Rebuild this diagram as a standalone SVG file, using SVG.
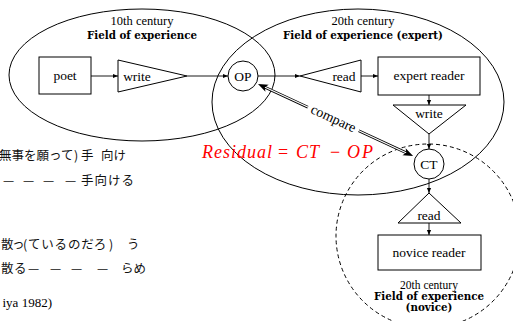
<svg xmlns="http://www.w3.org/2000/svg" width="513" height="321" viewBox="0 0 513 321" font-family="'Liberation Serif', 'Times New Roman', serif">
<style>
.t{font-family:'Liberation Serif','Times New Roman',serif;fill:#000}
.n{font-size:13.5px;text-anchor:middle}
.s{font-size:12.5px;text-anchor:middle}
.s2{font-size:11.5px;text-anchor:middle}
.b{font-family:'DejaVu Serif','Liberation Serif',serif;font-size:10.3px;font-weight:bold;text-anchor:middle;fill:#000}
.j{font-family:'Noto Sans CJK JP','Noto Sans CJK SC',sans-serif;font-size:12.5px;fill:#111}
.sh{fill:#fff;stroke:#000;stroke-width:1}
.fl{fill:none;stroke:#000;stroke-width:1}
.ln{stroke:#000;stroke-width:0.9;fill:none}
.r{font-family:'Liberation Serif','Times New Roman',serif;font-size:18px;fill:#ff0000}
</style>
<defs>
<marker id="ah" markerUnits="userSpaceOnUse" markerWidth="6" markerHeight="6" refX="5" refY="3" orient="auto">
<path d="M0,0.9 L5,3 L0,5.1 z" fill="#000"/>
</marker>
</defs>
<rect width="513" height="321" fill="#fff"/>

<g id="field-10th">
<ellipse class="fl" cx="142" cy="75" rx="133" ry="66"/>
<text class="t s" x="142" y="25">10th century</text>
<text class="b" x="142" y="39">Field of experience</text>
</g>
<g id="field-expert">
<ellipse class="fl" cx="358" cy="102" rx="146" ry="93"/>
<text class="t s" x="363" y="25">20th century</text>
<text class="b" x="363" y="39">Field of experience (expert)</text>
</g>
<g id="field-novice">
<circle class="fl" cx="428" cy="236" r="92" stroke-dasharray="4,3"/>
<text class="t s2" x="429" y="289">20th century</text>
<text class="b" x="429" y="300">Field of experience</text>
<text class="b" x="429" y="311">(novice)</text>
</g>

<g id="connectors">
<line class="ln" x1="91" y1="76" x2="118" y2="76" marker-end="url(#ah)"/>
<line class="ln" x1="187" y1="76" x2="228" y2="76" marker-end="url(#ah)"/>
<line class="ln" x1="258" y1="76" x2="300" y2="76" marker-end="url(#ah)"/>
<line class="ln" x1="361" y1="76" x2="378" y2="76" marker-end="url(#ah)"/>
<line class="ln" x1="429" y1="95" x2="429" y2="105" marker-end="url(#ah)"/>
<line class="ln" x1="429" y1="134" x2="429" y2="149" marker-end="url(#ah)"/>
<line class="ln" x1="429" y1="179" x2="429" y2="193" marker-end="url(#ah)"/>
<line class="ln" x1="429" y1="223" x2="429" y2="235" marker-end="url(#ah)"/>
<g id="compare" transform="translate(258,84) rotate(24.9)">
<path d="M7,0 H55 M111,0 H164" stroke="#000" stroke-width="2.8" fill="none"/>
<path d="M6,0 H56 M110,0 H165" stroke="#fff" stroke-width="1.2" fill="none"/>
<path d="M0,0 L10,-3.8 L7.5,0 L10,3.8 z" fill="#000"/>
<path d="M171,0 L161,-3.8 L163.5,0 L161,3.8 z" fill="#000"/>
<text class="t" x="83" y="4" font-size="14" text-anchor="middle">compare</text>
</g>
</g>

<g id="poet">
<rect class="sh" x="39" y="57" width="52" height="37"/>
<text class="t n" x="65" y="79.5">poet</text>
</g>
<g id="write1">
<polygon class="sh" points="118,60 118,92 187,76"/>
<text class="t n" x="137" y="81">write</text>
</g>
<g id="OP">
<circle class="sh" cx="243" cy="76" r="15"/>
<text class="t n" x="243" y="81">OP</text>
</g>
<g id="read1">
<polygon class="sh" points="361,60 361,92 300,76"/>
<text class="t n" x="344" y="81">read</text>
</g>
<g id="expert-reader">
<rect class="sh" x="378" y="57" width="102" height="38"/>
<text class="t n" x="429" y="80">expert reader</text>
</g>
<g id="write2">
<polygon class="sh" points="393,105 466,105 429,134"/>
<text class="t n" x="429" y="118">write</text>
</g>
<g id="CT">
<circle class="sh" cx="429" cy="164" r="15"/>
<text class="t n" x="429" y="169">CT</text>
</g>
<g id="read2">
<polygon class="sh" points="429,193 461,223 398,223"/>
<text class="t n" x="429" y="220">read</text>
</g>
<g id="novice-reader">
<rect class="sh" x="378" y="235" width="103" height="35"/>
<text class="t n" x="429" y="257">novice reader</text>
</g>

<text class="r" y="158"><tspan x="202" font-style="italic" letter-spacing="1">Residual</tspan><tspan x="278">=</tspan><tspan x="296" font-style="italic" letter-spacing="1">CT</tspan><tspan x="330">−</tspan><tspan x="347" font-style="italic" letter-spacing="2">OP</tspan></text>

<g id="gloss">
<text class="j" y="160"><tspan x="-1">無事を願って</tspan><tspan x="74">)</tspan><tspan x="81">手</tspan><tspan x="101">向け</tspan></text>
<text class="j" y="185"><tspan x="3">—</tspan><tspan x="23">—</tspan><tspan x="43">—</tspan><tspan x="65">—</tspan><tspan x="81" letter-spacing="1">手向ける</tspan></text>
<text class="j" y="249"><tspan x="1">散</tspan><tspan x="12">っ</tspan><tspan x="23">(</tspan><tspan x="28" letter-spacing="0.8">ているのだろ</tspan><tspan x="109">)</tspan><tspan x="127">う</tspan></text>
<text class="j" y="273"><tspan x="1">散</tspan><tspan x="14">る</tspan><tspan x="28">—</tspan><tspan x="50">—</tspan><tspan x="71">—</tspan><tspan x="97">—</tspan><tspan x="121">らめ</tspan></text>
<text class="t" x="2.5" y="307" font-size="13">iya 1982)</text>
</g>
</svg>
